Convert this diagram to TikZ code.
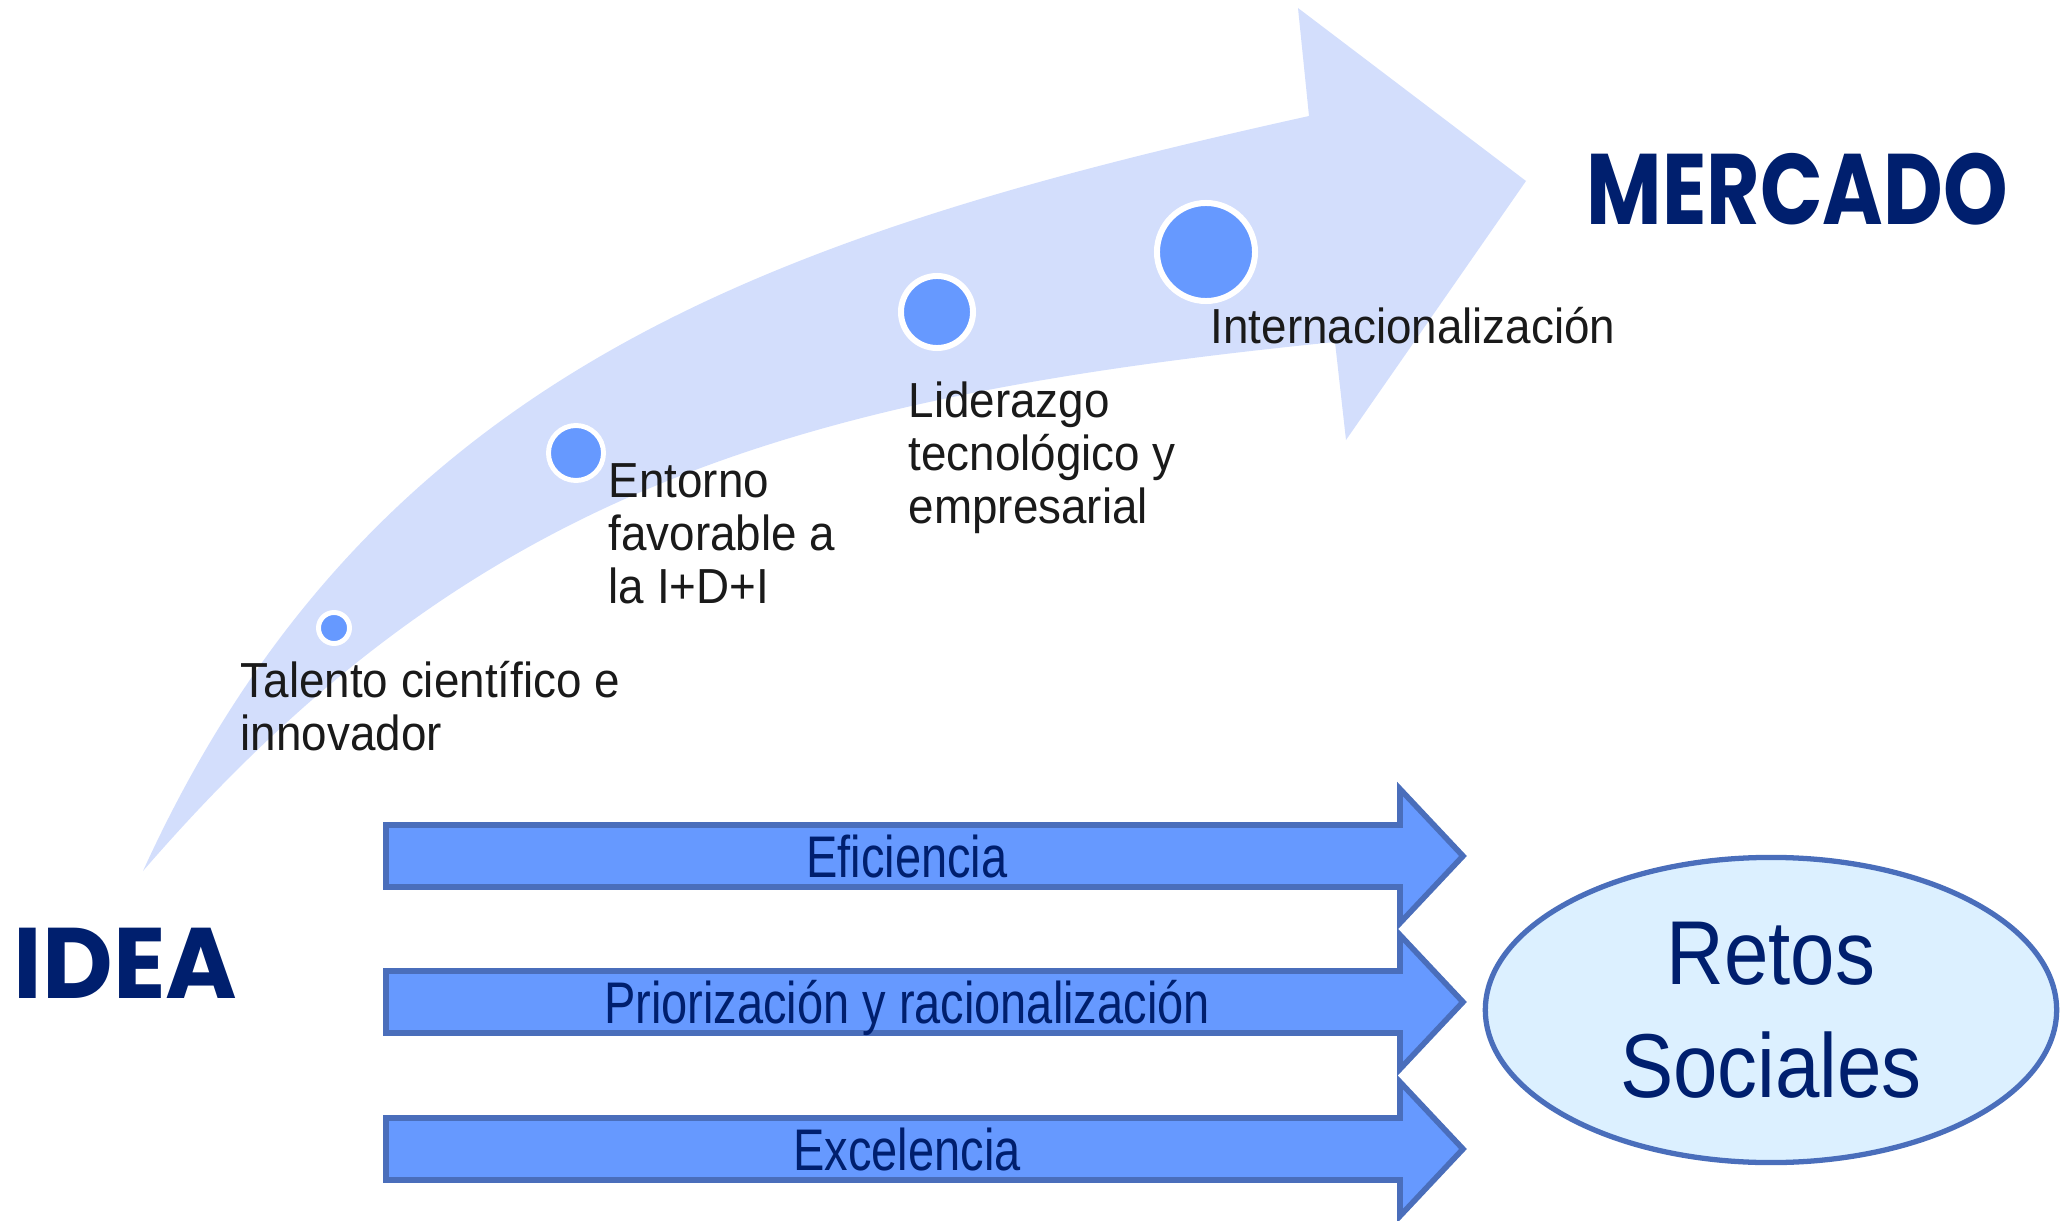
\documentclass[tikz,border=0pt]{standalone}
\usepackage{fontspec}
\setmainfont{Liberation Sans}
\newfontfamily\narrowfont{Liberation Sans}[FakeStretch=0.93]
\newfontfamily\arrowfont{Liberation Sans}[FakeStretch=0.8]
\newfontfamily\bigfont{Liberation Sans}[FakeStretch=0.88]
\newfontfamily\headfont{Poppins}[FakeStretch=0.82]
\newfontfamily\ideafont{Poppins}[FakeStretch=0.97]
\usetikzlibrary{shapes.geometric}
\definecolor{bandblue}{HTML}{D3DEFC}
\definecolor{dotblue}{HTML}{6699FF}
\definecolor{edgeblue}{HTML}{4A6EBB}
\definecolor{navy}{HTML}{001F6E}
\definecolor{paleblue}{HTML}{DCF0FF}
\definecolor{inkgrey}{HTML}{1A1A1A}
\tikzset{
  milestone/.style={circle, fill=dotblue, draw=white, inner sep=0pt},
  steplabel/.style={anchor=base west, inner sep=0pt, align=left, text=inkgrey,
    font=\narrowfont\fontsize{14}{15}\selectfont},
  heading/.style={anchor=base west, inner sep=0pt, text=navy,
    font=\headfont\bfseries\fontsize{28.5}{30}\selectfont},
  blockarrow/.style={fill=dotblue, draw=edgeblue, line width=1.6pt, line join=miter},
  arrowlabel/.style={anchor=base, inner sep=0pt, text=navy,
    font=\arrowfont\fontsize{16.7}{18}\selectfont},
  goal/.style={ellipse, draw=edgeblue, fill=paleblue, line width=1.5pt, inner sep=0pt,
    align=center, text=navy, font=\bigfont\fontsize{25.8}{32}\selectfont}
}
\begin{document}
\begin{tikzpicture}[x=0.01cm,y=-0.01cm]
\useasboundingbox (0,0) rectangle (2062,1221);
\fill[bandblue] (143,871) .. controls (371,371) and (772,235) .. (1309,116)
  -- (1298,8) -- (1526,181) -- (1346,440) -- (1335,342)
  .. controls (788,397) and (470,493) .. (143,871) -- cycle;
\node[milestone, minimum size=0.31cm, line width=1.4pt] (talento) at (334,628) {};
\node[milestone, minimum size=0.55cm, line width=1.4pt] (entorno) at (576,453) {};
\node[milestone, minimum size=0.72cm, line width=1.7pt] (liderazgo) at (937,312) {};
\node[milestone, minimum size=0.98cm, line width=1.7pt] (internac) at (1206,252) {};
\node[steplabel] (talentotxt) at (240,750) {Talento científico e\\innovador};
\node[steplabel] (entornotxt) at (608,603) {Entorno\\favorable a\\la I+D+I};
\node[steplabel] (liderazgotxt) at (908,523) {Liderazgo\\tecnológico y\\empresarial};
\node[steplabel] (internactxt) at (1210,343) {Internacionalización};
\node[heading, font=\ideafont\bfseries\fontsize{28.5}{30}\selectfont] (idea) at (13,998) {IDEA};
\node[heading] (mercado) at (1586,225) {MERCADO};
\foreach \y/\name/\txt in {856/efic/Eficiencia, 1002/prior/Priorización y racionalización, 1149/excel/Excelencia}{
  \draw[blockarrow] (386,\y-31) -- (1400,\y-31) -- (1400,\y-67) -- (1463,\y) -- (1400,\y+67) -- (1400,\y+31) -- (386,\y+31) -- cycle;
  \node[arrowlabel] (\name) at (907,\y+21) {\txt};
}
\node[goal, minimum width=5.71cm, minimum height=3.05cm] (retos) at (1771,1010) {Retos\\Sociales};
\end{tikzpicture}
\end{document}
